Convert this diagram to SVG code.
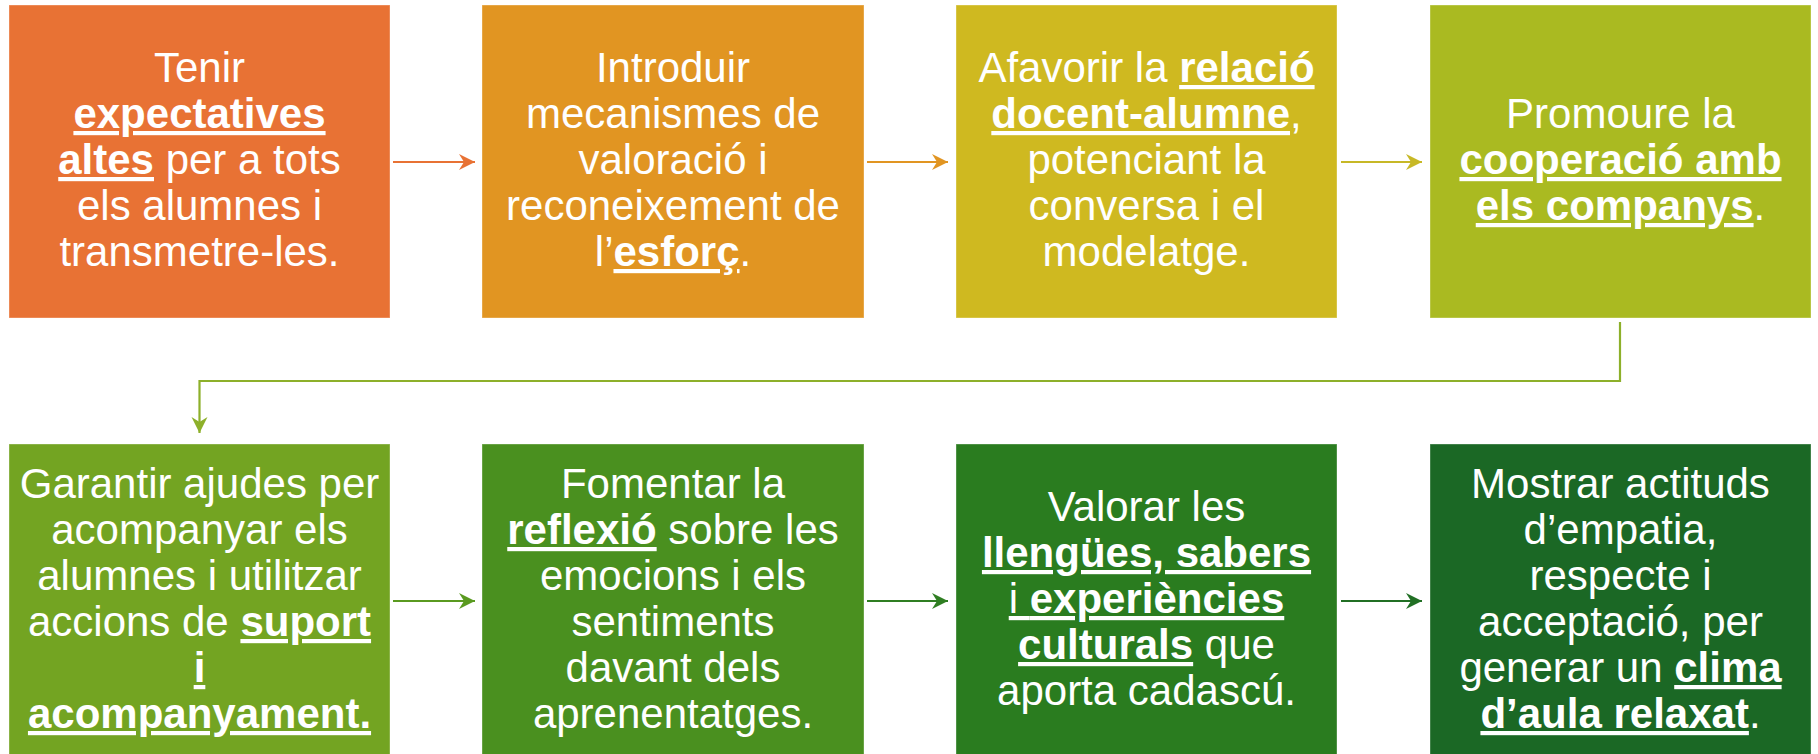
<svg xmlns="http://www.w3.org/2000/svg" width="1818" height="754" viewBox="0 0 1818 754">
<style>
.box{stroke:#ffffff;stroke-opacity:0.35;stroke-width:1}
.t{font-family:"Liberation Sans",Arial,sans-serif;font-size:42px;fill:#ffffff;text-anchor:middle}
.b{font-weight:bold}
.u{text-decoration:underline}
.c{fill:none;stroke-width:2.2}
</style>
<defs>
<marker id="m1" markerUnits="userSpaceOnUse" markerWidth="18" markerHeight="18" refX="16" refY="8" orient="auto" viewBox="0 0 18 18"><path d="M0,0 L16,8 L0,16 L5,8 z" fill="#E87234"/></marker>
<marker id="m2" markerUnits="userSpaceOnUse" markerWidth="18" markerHeight="18" refX="16" refY="8" orient="auto" viewBox="0 0 18 18"><path d="M0,0 L16,8 L0,16 L5,8 z" fill="#E19522"/></marker>
<marker id="m3" markerUnits="userSpaceOnUse" markerWidth="18" markerHeight="18" refX="16" refY="8" orient="auto" viewBox="0 0 18 18"><path d="M0,0 L16,8 L0,16 L5,8 z" fill="#C7B826"/></marker>
<marker id="m4" markerUnits="userSpaceOnUse" markerWidth="18" markerHeight="18" refX="16" refY="8" orient="auto" viewBox="0 0 18 18"><path d="M0,0 L16,8 L0,16 L5,8 z" fill="#8DB02A"/></marker>
<marker id="m5" markerUnits="userSpaceOnUse" markerWidth="18" markerHeight="18" refX="16" refY="8" orient="auto" viewBox="0 0 18 18"><path d="M0,0 L16,8 L0,16 L5,8 z" fill="#5A9A20"/></marker>
<marker id="m6" markerUnits="userSpaceOnUse" markerWidth="18" markerHeight="18" refX="16" refY="8" orient="auto" viewBox="0 0 18 18"><path d="M0,0 L16,8 L0,16 L5,8 z" fill="#2F7E22"/></marker>
<marker id="m7" markerUnits="userSpaceOnUse" markerWidth="18" markerHeight="18" refX="16" refY="8" orient="auto" viewBox="0 0 18 18"><path d="M0,0 L16,8 L0,16 L5,8 z" fill="#216F24"/></marker>
</defs>
<rect width="1818" height="754" fill="#ffffff"/>

<g id="connectors">
<path class="c" d="M393,162 H475" stroke="#E87234" marker-end="url(#m1)"/>
<path class="c" d="M867,162 H948" stroke="#E19522" marker-end="url(#m2)"/>
<path class="c" d="M1341,162 H1422" stroke="#C7B826" marker-end="url(#m3)"/>
<path class="c" d="M1620,322 V381 H199.5 V433" stroke="#8DB02A" marker-end="url(#m4)"/>
<path class="c" d="M393,601 H475" stroke="#5A9A20" marker-end="url(#m5)"/>
<path class="c" d="M867,601 H948" stroke="#2F7E22" marker-end="url(#m6)"/>
<path class="c" d="M1341,601 H1422" stroke="#216F24" marker-end="url(#m7)"/>
</g>

<g id="node1">
<rect class="box" x="9" y="5" width="381" height="313" fill="#E87234"/>
<text class="t" x="199.5" y="82">Tenir</text>
<text class="t" x="199.5" y="128"><tspan class="b u">expectatives</tspan></text>
<text class="t" x="199.5" y="174"><tspan class="b u">altes</tspan> per a tots</text>
<text class="t" x="199.5" y="220">els alumnes i</text>
<text class="t" x="199.5" y="266">transmetre-les.</text>
</g>

<g id="node2">
<rect class="box" x="482" y="5" width="382" height="313" fill="#E19522"/>
<text class="t" x="673" y="82">Introduir</text>
<text class="t" x="673" y="128">mecanismes de</text>
<text class="t" x="673" y="174">valoració i</text>
<text class="t" x="673" y="220">reconeixement de</text>
<text class="t" x="673" y="266">l’<tspan class="b u">esforç</tspan>.</text>
</g>

<g id="node3">
<rect class="box" x="956" y="5" width="381" height="313" fill="#CFB920"/>
<text class="t" x="1146.5" y="82">Afavorir la <tspan class="b u">relació</tspan></text>
<text class="t" x="1146.5" y="128"><tspan class="b u">docent-alumne</tspan>,</text>
<text class="t" x="1146.5" y="174">potenciant la</text>
<text class="t" x="1146.5" y="220">conversa i el</text>
<text class="t" x="1146.5" y="266">modelatge.</text>
</g>

<g id="node4">
<rect class="box" x="1430" y="5" width="381" height="313" fill="#AABA21"/>
<text class="t" x="1620.5" y="128">Promoure la</text>
<text class="t" x="1620.5" y="174"><tspan class="b u">cooperació amb</tspan></text>
<text class="t" x="1620.5" y="220"><tspan class="b u">els companys</tspan>.</text>
</g>

<g id="node5">
<rect class="box" x="9" y="444" width="381" height="313" fill="#73A422"/>
<text class="t" x="199.5" y="498">Garantir ajudes per</text>
<text class="t" x="199.5" y="544">acompanyar els</text>
<text class="t" x="199.5" y="590">alumnes i utilitzar</text>
<text class="t" x="199.5" y="636">accions de <tspan class="b u">suport</tspan></text>
<text class="t" x="199.5" y="682"><tspan class="b u">i</tspan></text>
<text class="t" x="199.5" y="728"><tspan class="b u">acompanyament.</tspan></text>
</g>

<g id="node6">
<rect class="box" x="482" y="444" width="382" height="313" fill="#4A901F"/>
<text class="t" x="673" y="498">Fomentar la</text>
<text class="t" x="673" y="544"><tspan class="b u">reflexió</tspan> sobre les</text>
<text class="t" x="673" y="590">emocions i els</text>
<text class="t" x="673" y="636">sentiments</text>
<text class="t" x="673" y="682">davant dels</text>
<text class="t" x="673" y="728">aprenentatges.</text>
</g>

<g id="node7">
<rect class="box" x="956" y="444" width="381" height="313" fill="#2A7C1F"/>
<text class="t" x="1146.5" y="521">Valorar les</text>
<text class="t" x="1146.5" y="567"><tspan class="b u">llengües, sabers</tspan></text>
<text class="t" x="1146.5" y="613"><tspan class="u">i </tspan><tspan class="b u">experiències</tspan></text>
<text class="t" x="1146.5" y="659"><tspan class="b u">culturals</tspan> que</text>
<text class="t" x="1146.5" y="705">aporta cadascú.</text>
</g>

<g id="node8">
<rect class="box" x="1430" y="444" width="381" height="313" fill="#1B6825"/>
<text class="t" x="1620.5" y="498">Mostrar actituds</text>
<text class="t" x="1620.5" y="544">d’empatia,</text>
<text class="t" x="1620.5" y="590">respecte i</text>
<text class="t" x="1620.5" y="636">acceptació, per</text>
<text class="t" x="1620.5" y="682">generar un <tspan class="b u">clima</tspan></text>
<text class="t" x="1620.5" y="728"><tspan class="b u">d’aula relaxat</tspan>.</text>
</g>
</svg>
